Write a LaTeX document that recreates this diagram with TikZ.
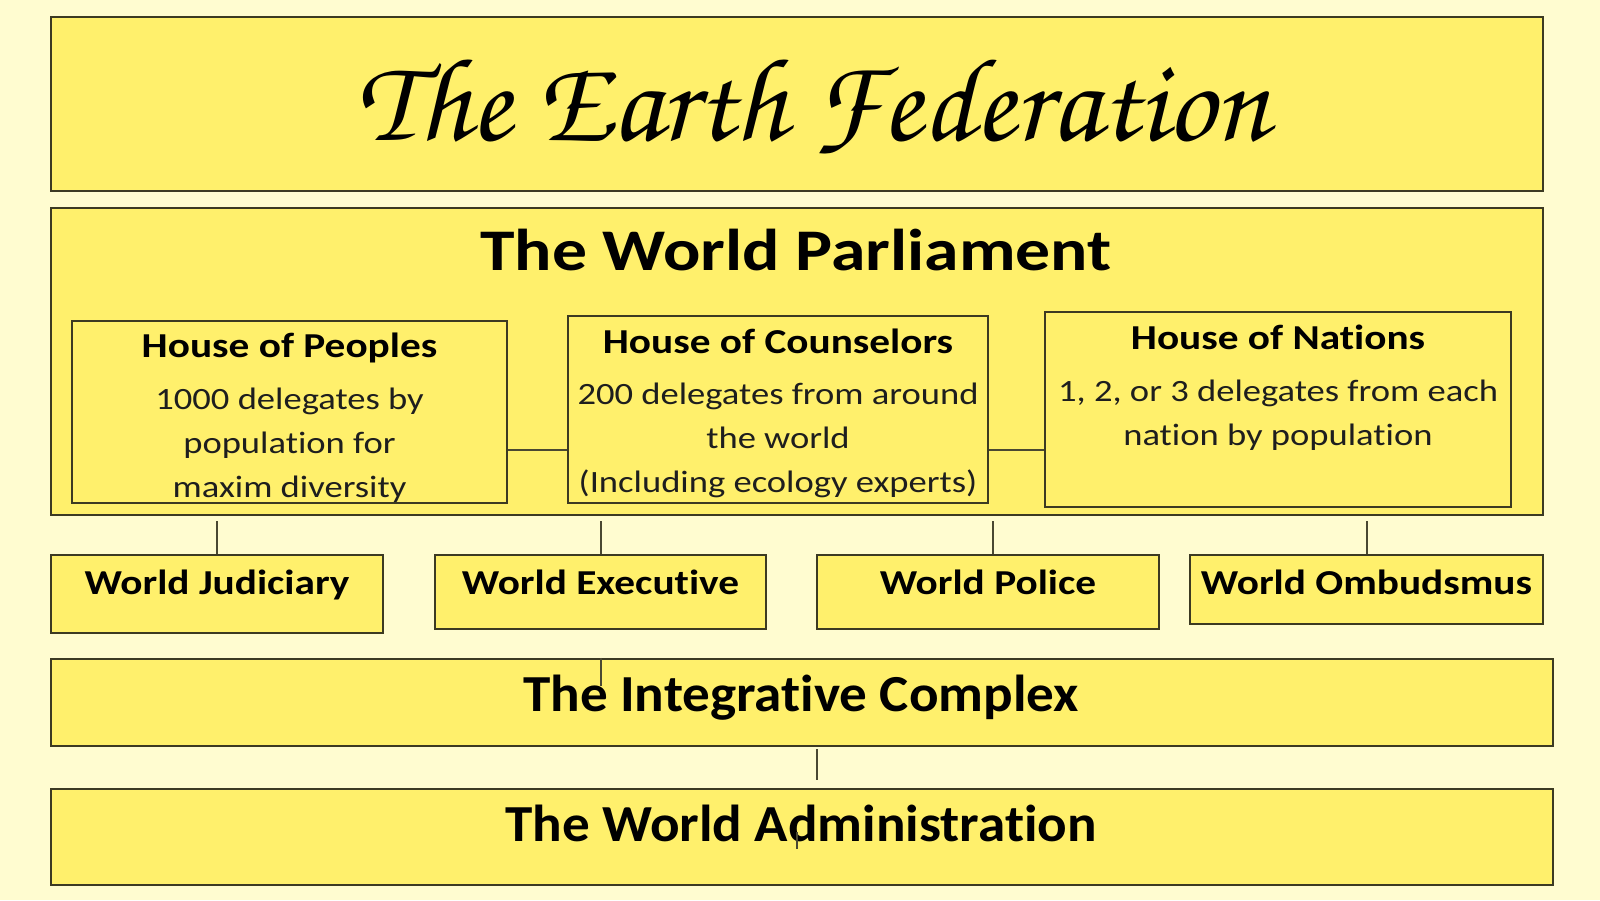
\documentclass[tikz,border=0pt]{standalone}
\usepackage[T1]{fontenc}
\usepackage{fontspec}
\newfontfamily\carl[FakeStretch=1.18,Ligatures=NoCommon]{Carlito}
\newfontfamily\carlw[FakeStretch=1.06,Ligatures=NoCommon]{Carlito}
\newcommand\efttitle{\fontencoding{T1}\fontfamily{pzc}\fontseries{mb}\fontshape{it}\selectfont}
\usetikzlibrary{fit,calc}
\definecolor{bg}{HTML}{FFFCD0}
\definecolor{boxfill}{HTML}{FFF06C}
\definecolor{edge}{HTML}{3C3A22}
\definecolor{wire}{HTML}{4A4832}
\definecolor{bodytext}{HTML}{1E1E1E}
\tikzset{
  box/.style={draw=edge, line width=1.25pt, fill=boxfill, inner sep=0pt},
  wireline/.style={draw=wire, line width=1pt},
  heading/.style={anchor=base, font=\carl\bfseries\fontsize{17.5}{21}\selectfont},
  bodytxt/.style={anchor=base, align=center, text=bodytext, font=\carl\fontsize{15.5}{22}\selectfont},
  bigtxt/.style={anchor=base, font=\carlw\bfseries\fontsize{26}{31}\selectfont}
}
\begin{document}
\begin{tikzpicture}[x=0.5pt,y=-0.5pt]
\fill[bg] (0,0) rectangle (1600,900);
\useasboundingbox (0,0) rectangle (1600,900);

% boxes
\node[box, fit={(51,17)(1543,191)}] (tf) {};
\node[box, fit={(51,208)(1543,515)}] (wp) {};
\node[box, fit={(72,321)(507,503)}] (hp) {};
\node[box, fit={(568,316)(988,503)}] (hc) {};
\node[box, fit={(1045,312)(1511,507)}] (hn) {};
\node[box, fit={(51,555)(383,633)}] (wj) {};
\node[box, fit={(435,555)(766,629)}] (we) {};
\node[box, fit={(817,555)(1159,629)}] (wpo) {};
\node[box, fit={(1190,555)(1543,624)}] (wo) {};
\node[box, fit={(51,659)(1553,746)}] (ic) {};
\node[box, fit={(51,789)(1553,885)}] (wa) {};

% texts
\node[anchor=base, font=\efttitle\fontsize{40}{48}\selectfont] (tft) at (813,140) {\resizebox{456pt}{!}{The Earth Federation}};
\node[anchor=base, font=\carl\bfseries\fontsize{29.5}{35}\selectfont] (wpt) at (796,270) {The World Parliament};

\node[heading] (hpt) at (289.5,357) {House of Peoples};
\node[bodytxt] (hpb) at (289.5,497) {1000 delegates by\\population for\\maxim diversity};
\node[heading] (hct) at (778,353) {House of Counselors};
\node[bodytxt] (hcb) at (778,492) {200 delegates from around\\the world\\(Including ecology experts)};
\node[heading] (hnt) at (1278,349) {House of Nations};
\node[bodytxt] (hnb) at (1278,445) {1, 2, or 3 delegates from each\\nation by population};

\node[heading] (wjt) at (217,594) {World Judiciary};
\node[heading] (wet) at (600.5,594) {World Executive};
\node[heading] (wpot) at (988,594) {World Police};
\node[heading] (wot) at (1366.5,594) {World Ombudsmus};

\node[bigtxt] (ict) at (801,711) {The Integrative Complex};
\node[bigtxt] (wat) at (801,841) {The World Administration};

% connectors
\coordinate (ly) at (0,450);
\draw[wireline] (hp.east |- ly) -- (hc.west |- ly);
\draw[wireline] (hc.east |- ly) -- (hn.west |- ly);
\draw[wireline, shorten >=2.5pt] (wj.north) -- (wj.north |- wp.south);
\draw[wireline, shorten >=2.5pt] (we.north) -- (we.north |- wp.south);
\draw[wireline, shorten >=2.5pt] ([xshift=2.5pt]wpo.north) -- ([xshift=2.5pt]wpo.north |- wp.south);
\draw[wireline, shorten >=2.5pt] (wo.north) -- (wo.north |- wp.south);
\draw[wireline] (we.south |- ic.north) -- ++(0,28);
\draw[wireline, shorten <=1pt, shorten >=4pt] ([xshift=7.5pt]ic.south) -- ([xshift=7.5pt]wa.north);
\coordinate (st) at (797,832);
\draw[wireline] (st) -- ++(0,17);
\end{tikzpicture}
\end{document}
